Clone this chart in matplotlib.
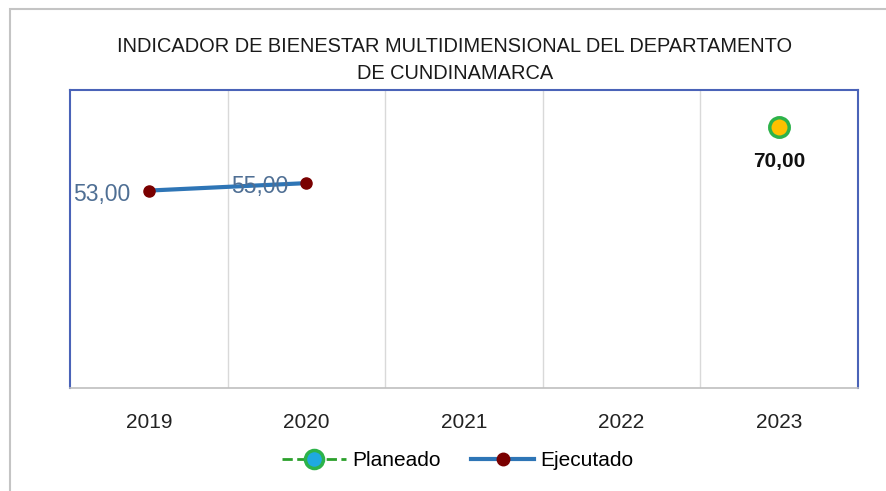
import matplotlib
matplotlib.use("Agg")
import matplotlib.pyplot as plt
from matplotlib.lines import Line2D
from matplotlib.patches import Rectangle
import numpy as np

years = ["2019", "2020", "2021", "2022", "2023"]
ejecutado = [53.0, 55.0, np.nan, np.nan, np.nan]
planeado = [np.nan, np.nan, np.nan, np.nan, 70.0]
title = "INDICADOR DE BIENESTAR MULTIDIMENSIONAL DEL DEPARTAMENTO\nDE CUNDINAMARCA"

plt.rcParams['font.family'] = ['Liberation Sans', 'DejaVu Sans']

fig = plt.figure(figsize=(8.86, 4.91), dpi=100)

# outer chart-area border
fig.add_artist(Rectangle((10/886, -0.05), 1.0, 1 - 9/491 + 0.05,
                         transform=fig.transFigure, fill=False,
                         edgecolor="#c4c4c4", lw=1.5))

ax = fig.add_axes([70/886, 1-388/491, (858-70)/886, (388-90)/491])

x = np.arange(len(years))
ax.plot(x, ejecutado, color="#2e75b6", lw=3, marker="o", ms=8,
        markerfacecolor="#7a0000", markeredgecolor="#7a0000", zorder=3)
ax.plot(x, planeado, color="#2ca02c", lw=2, ls="--", marker="o", ms=14,
        markerfacecolor="#ffc000", markeredgecolor="#2db34a", markeredgewidth=2.5, zorder=3)

for xi, v in zip(x, ejecutado):
    if not np.isnan(v):
        ax.annotate(f"{v:.2f}".replace(".", ","), (xi, v), xytext=(-13, -2.5),
                    textcoords="offset points", ha="right", va="center",
                    fontsize=16.5, color="#4f6f94", zorder=4)
for xi, v in zip(x, planeado):
    if not np.isnan(v):
        ax.annotate(f"{v:.2f}".replace(".", ","), (xi, v), xytext=(0, -25),
                    textcoords="offset points", ha="center", va="center",
                    fontsize=15, fontweight="bold", color="#111111", zorder=4)

ax.set_xlim(-0.5, len(years) - 0.5)
ax.set_ylim(0, 80)
ax.set_yticks([])
ax.set_xticks(x)
ax.set_xticklabels(years, fontsize=15, color="#222222")
ax.tick_params(axis="x", length=0, pad=18)
for b in np.arange(0.5, len(years) - 0.5, 1):
    ax.axvline(b, color="#d9d9d9", lw=1, zorder=1)

for s in ["top", "left", "right"]:
    ax.spines[s].set_color("#4a63b8")
    ax.spines[s].set_linewidth(1.5)
ax.spines["bottom"].set_color("#bfbfbf")
ax.spines["bottom"].set_linewidth(1.2)

fig.text(455/886, 1-60/491, title, ha="center", va="center", fontsize=14.4,
         linespacing=1.5, color="#1a1a1a")

handles = [
    Line2D([], [], color="#2ca02c", lw=2, ls="--", marker="o", ms=13,
           markerfacecolor="#1fa9e0", markeredgecolor="#2db34a", markeredgewidth=2.5),
    Line2D([], [], color="#2e75b6", lw=3, marker="o", ms=9,
           markerfacecolor="#7a0000", markeredgecolor="#7a0000"),
]
fig.legend(handles, ["Planeado", "Ejecutado"], loc="center",
           bbox_to_anchor=(458/886, 1-461/491), ncol=2, frameon=False,
           fontsize=15, handlelength=3.05, columnspacing=1.45, handletextpad=0.3)

fig.savefig("out.png", dpi=100)
